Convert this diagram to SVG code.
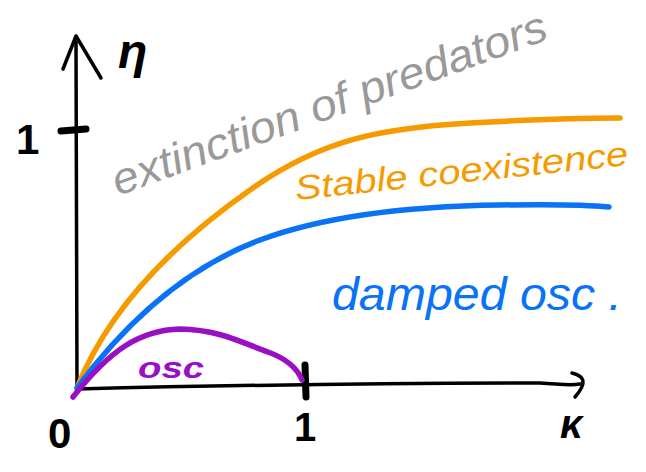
<svg xmlns="http://www.w3.org/2000/svg" width="646" height="472" viewBox="0 0 646 472">
<style>
.ax{fill:none;stroke:#000;stroke-width:3.5;stroke-linecap:round;stroke-linejoin:round}
.tk{fill:none;stroke:#000;stroke-width:7;stroke-linecap:round}
.cv{fill:none;stroke-width:5.5;stroke-linecap:round;stroke-linejoin:round}
.hw{font-family:"Liberation Sans","DejaVu Sans",sans-serif;font-style:italic}
.lb{font-family:"Liberation Sans","DejaVu Sans",sans-serif;font-weight:bold;fill:#000}
</style>
<rect width="646" height="472" fill="#fff"/>
<g id="axes">
<path class="ax" d="M77,388 L76,42"/>
<path class="ax" d="M63,69 L76,36 L101,78"/>
<path class="ax" d="M77,389 C200,386 400,383 540,383 C560,384 570,386 580,384"/>
<path class="ax" d="M572,373 C584,376 588,382 575,397"/>
<path class="tk" d="M61,131 L86,129"/>
<path class="tk" d="M305,365 L306,397"/>
</g>
<g id="curves">
<path class="cv" stroke="#f59b00" d="M77,388 C100,330 150,260 250,190 C320,140 380,128 470,123 C540,119 590,118 620,118"/>
<path class="cv" stroke="#0a72f5" d="M77,388 C120,330 180,270 260,240 C330,214 420,206 500,205 C560,204 590,205 609,207"/>
<path class="cv" stroke="#9a0fc4" d="M73,397 C110,350 140,330 180,329 C220,330 240,342 268,352 C290,360 298,370 302,380"/>
</g>
<g id="labels">
<text class="lb" x="16" y="154" font-size="42">1</text>
<text class="lb" x="118" y="68" font-size="48" font-style="italic">η</text>
<text class="lb" x="48" y="448" font-size="42">0</text>
<text class="lb" x="294" y="441" font-size="40">1</text>
<text class="lb" x="560" y="438" font-size="40" font-style="italic">κ</text>
<text class="hw" fill="#999" font-size="44" transform="translate(118,196) rotate(-20)" textLength="460" lengthAdjust="spacingAndGlyphs">extinction of predators</text>
<text class="hw" fill="#f59b00" font-size="34" transform="translate(296,200) rotate(-6)" textLength="335" lengthAdjust="spacingAndGlyphs">Stable coexistence</text>
<text class="hw" fill="#0a72f5" font-size="46" x="332" y="310" textLength="290" lengthAdjust="spacingAndGlyphs">damped osc .</text>
<text class="hw" fill="#9a0fc4" font-size="30" font-weight="bold" x="138" y="378" textLength="66" lengthAdjust="spacingAndGlyphs">osc</text>
</g>
</svg>
